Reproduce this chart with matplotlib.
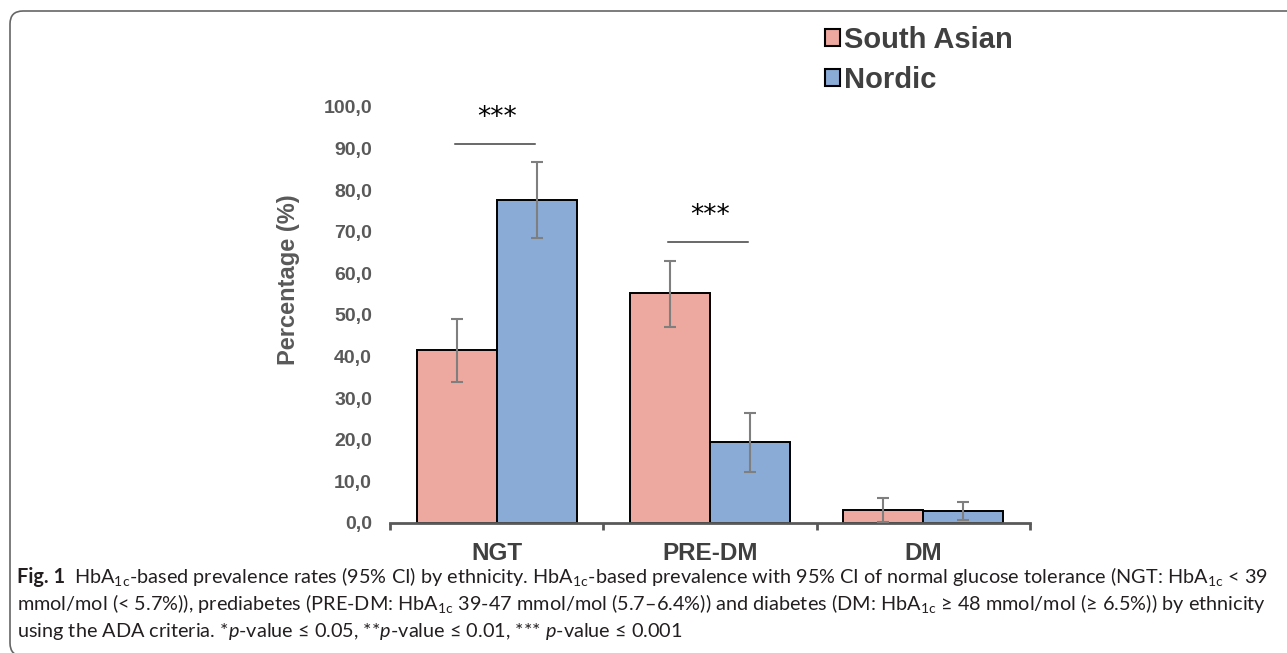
import matplotlib
matplotlib.use("Agg")
import matplotlib.pyplot as plt
from matplotlib.patches import FancyBboxPatch, Patch
import numpy as np

# Data (percent, 95% CI)
categories = ['NGT', 'PRE-DM', 'DM']
groups = ['South Asian', 'Nordic']
south_asian = [41.6, 55.3, 3.1]
south_asian_lo = [33.9, 47.1, 0.3]
south_asian_hi = [49.0, 63.0, 6.0]
nordic = [77.6, 19.5, 2.9]
nordic_lo = [68.5, 12.3, 0.7]
nordic_hi = [86.8, 26.4, 5.0]
y_ticks = [0, 10, 20, 30, 40, 50, 60, 70, 80, 90, 100]
# significance brackets: (category index, bar height, label)
sig_cat = [0, 1]
sig_y = [91.1, 67.5]
sig_text = ['***', '***']

col_sa = '#eda99f'
col_no = '#8aabd6'
grey = '#595959'
cap_font = 'Lato'

plt.rcParams['mathtext.fontset'] = 'custom'
plt.rcParams['mathtext.rm'] = cap_font
plt.rcParams['mathtext.it'] = cap_font + ':italic'
plt.rcParams['mathtext.bf'] = cap_font + ':bold'

fig = plt.figure(figsize=(12.87, 6.53), dpi=100)
ax = fig.add_axes([390 / 1287, 130 / 653, 640 / 1287, 416 / 653])

x = np.arange(len(categories))
w = 0.375
sa = np.array(south_asian)
no = np.array(nordic)
err_sa = [sa - np.array(south_asian_lo), np.array(south_asian_hi) - sa]
err_no = [no - np.array(nordic_lo), np.array(nordic_hi) - no]

ax.bar(x - w / 2, sa, w, color=col_sa, edgecolor='black', linewidth=1.4, zorder=2)
ax.bar(x + w / 2, no, w, color=col_no, edgecolor='black', linewidth=1.4, zorder=2)
ax.errorbar(x - w / 2, sa, yerr=err_sa, fmt='none', ecolor='#7f7f7f',
            elinewidth=1.5, capsize=4, capthick=1.5, zorder=3)
ax.errorbar(x + w / 2, no, yerr=err_no, fmt='none', ecolor='#7f7f7f',
            elinewidth=1.5, capsize=4, capthick=1.5, zorder=3)

# significance markers
for c, yv, t in zip(sig_cat, sig_y, sig_text):
    ax.plot([c - 0.195, c + 0.18], [yv, yv], color='#404040', lw=1.1, clip_on=False)
    ax.text(c, yv + 6.3, t, ha='center', va='center', fontsize=19,
            family='DejaVu Sans', color='black')

ax.set_xlim(-0.5, 2.5)
ax.set_ylim(0, 100)
ax.set_yticks(y_ticks)
ax.set_yticklabels([f'{v:.1f}'.replace('.', ',') for v in y_ticks],
                   fontsize=14, fontweight='bold', color=grey, family='Liberation Sans')
ax.tick_params(axis='y', length=0, pad=13)
ax.set_xticks(x)
ax.set_xticklabels(categories, fontsize=17.5, fontweight='bold', color='#404040',
                   family='Liberation Sans')
ax.tick_params(axis='x', which='major', length=0, pad=14)
ax.set_xticks([-0.5, 0.5, 1.5, 2.5], minor=True)
ax.tick_params(axis='x', which='minor', length=5, width=2, color=grey)
for s in ['top', 'right', 'left']:
    ax.spines[s].set_visible(False)
ax.spines['bottom'].set_color(grey)
ax.spines['bottom'].set_linewidth(2)
ax.set_ylabel('Percentage (%)', fontsize=17, fontweight='bold', color=grey,
              family='Liberation Sans')
ax.yaxis.set_label_coords(-0.14, 0.584)

handles = [Patch(facecolor=col_sa, edgecolor='black', linewidth=1.5),
           Patch(facecolor=col_no, edgecolor='black', linewidth=1.5)]
fig.legend(handles, groups, loc='upper left', bbox_to_anchor=(810 / 1287, 1 - 11 / 653),
           frameon=False, handlelength=0.52, handleheight=0.52, handletextpad=0.15,
           labelspacing=0.42, borderpad=0,
           prop={'family': 'Liberation Sans', 'weight': 'bold', 'size': 21},
           labelcolor='#404040')

# rounded frame around figure + caption (bottom edge runs off the image)
frame = FancyBboxPatch((0.10, -0.03), 13.2, 6.45,
                       boxstyle='round,pad=0,rounding_size=0.13',
                       transform=fig.dpi_scale_trans, facecolor='none',
                       edgecolor='#666666', linewidth=1.2)
fig.patches.append(frame)

# caption
cap_col = '#231f20'
sub = r'$_{\mathregular{1c}}$'
lines = [
    'HbA' + sub + '-based prevalence rates (95% CI) by ethnicity. HbA' + sub +
    '-based prevalence with 95% CI of normal glucose tolerance (NGT: HbA' + sub + ' < 39',
    'mmol/mol (< 5.7%)), prediabetes (PRE-DM: HbA' + sub +
    ' 39-47 mmol/mol (5.7\u20136.4%)) and diabetes (DM: HbA' + sub +
    ' \u2265 48 mmol/mol (\u2265 6.5%)) by ethnicity',
    'using the ADA criteria. *$\\mathit{p}$-value \u2264 0.05, **$\\mathit{p}$-value \u2264 0.01, '
    '*** $\\mathit{p}$-value \u2264 0.001',
]
ys = [1 - 583 / 653, 1 - 610 / 653, 1 - 637 / 653]
left = 17
right = 1262

renderer = fig.canvas.get_renderer()
size0 = 12.0
fig_lab = fig.text(left / 1287, ys[0], 'Fig. 1', fontsize=size0, fontweight='bold',
                   family=cap_font, color=cap_col, va='baseline')
first = fig.text(0, ys[0], lines[0], fontsize=size0, family=cap_font,
                 color=cap_col, va='baseline')
bb_f = fig_lab.get_window_extent(renderer)
bb_l = first.get_window_extent(renderer)
gap = 9
scale = (right - left - gap) / (bb_f.width + bb_l.width)
cap_size = size0 * scale
fig_lab.set_fontsize(cap_size)
first.set_fontsize(cap_size)
bb_f = fig_lab.get_window_extent(renderer)
first.set_x((bb_f.x1 + gap) / 1287)
for line, yv in zip(lines[1:], ys[1:]):
    fig.text(left / 1287, yv, line, fontsize=cap_size, family=cap_font,
             color=cap_col, va='baseline')

fig.savefig('out.png', dpi=100)
